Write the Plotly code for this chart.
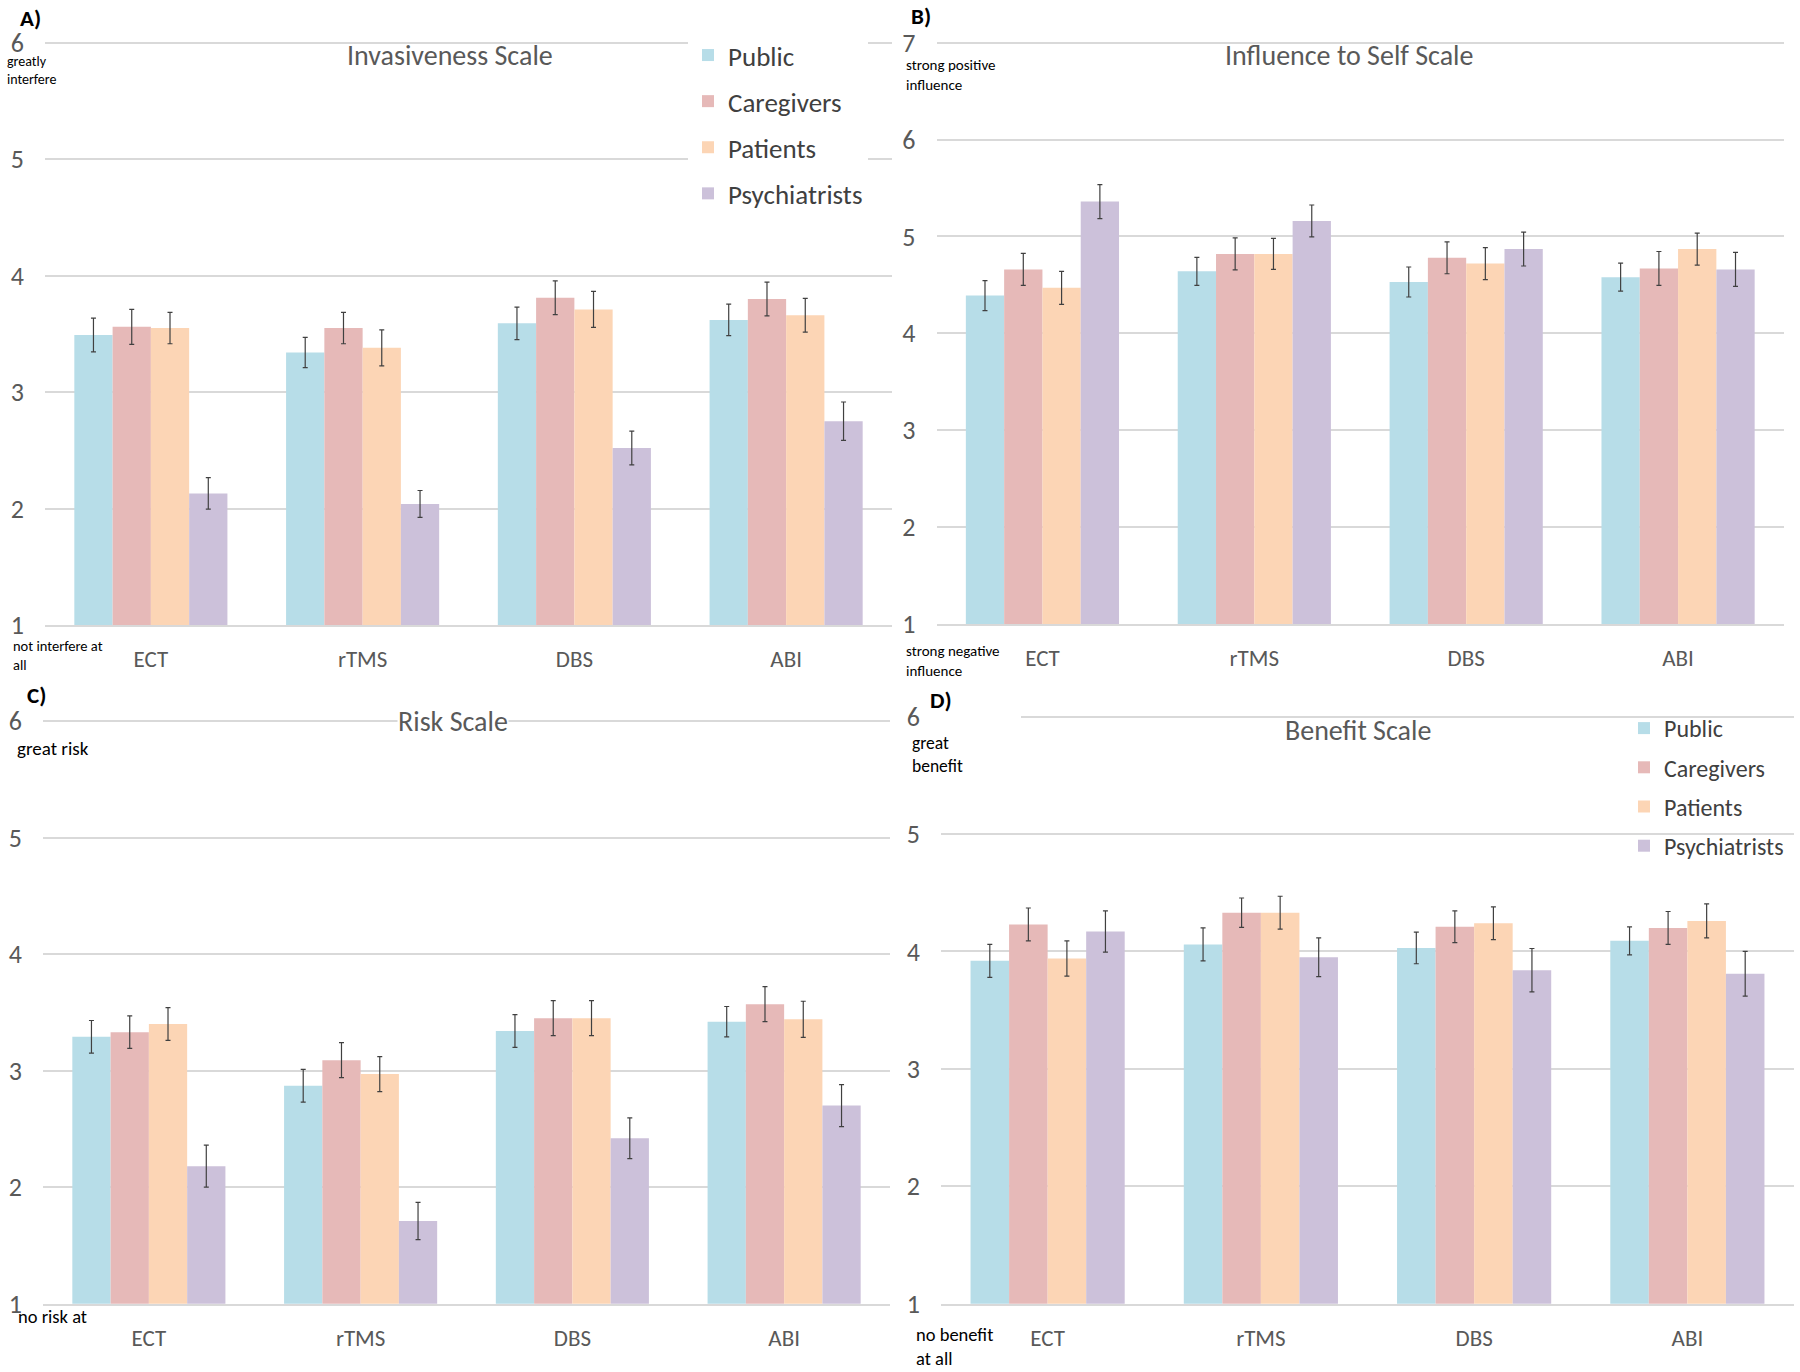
import plotly.graph_objects as go

# ---------------- data ----------------
treatments = ["ECT", "rTMS", "DBS", "ABI"]
groups = ["Public", "Caregivers", "Patients", "Psychiatrists"]
colors = ["#b7dde8", "#e6b9b8", "#fcd5b5", "#ccc1da"]

# A) Invasiveness Scale
inv_public = [3.49, 3.34, 3.59, 3.62]
inv_caregivers = [3.56, 3.55, 3.81, 3.80]
inv_patients = [3.55, 3.38, 3.71, 3.66]
inv_psych = [2.13, 2.04, 2.52, 2.75]
inv_public_err = [0.145, 0.13, 0.14, 0.135]
inv_caregivers_err = [0.15, 0.135, 0.145, 0.145]
inv_patients_err = [0.135, 0.155, 0.155, 0.145]
inv_psych_err = [0.135, 0.115, 0.145, 0.165]

# B) Influence to Self Scale
inf_public = [4.39, 4.64, 4.53, 4.58]
inf_caregivers = [4.66, 4.82, 4.78, 4.67]
inf_patients = [4.47, 4.82, 4.72, 4.87]
inf_psych = [5.36, 5.16, 4.87, 4.66]
inf_public_err = [0.155, 0.145, 0.155, 0.145]
inf_caregivers_err = [0.165, 0.165, 0.165, 0.175]
inf_patients_err = [0.17, 0.16, 0.165, 0.165]
inf_psych_err = [0.175, 0.165, 0.175, 0.175]

# C) Risk Scale
risk_public = [3.29, 2.87, 3.34, 3.42]
risk_caregivers = [3.33, 3.09, 3.45, 3.57]
risk_patients = [3.40, 2.97, 3.45, 3.44]
risk_psych = [2.18, 1.71, 2.42, 2.70]
risk_public_err = [0.14, 0.14, 0.14, 0.13]
risk_caregivers_err = [0.14, 0.15, 0.15, 0.15]
risk_patients_err = [0.14, 0.15, 0.15, 0.155]
risk_psych_err = [0.18, 0.16, 0.175, 0.18]

# D) Benefit Scale
ben_public = [3.92, 4.06, 4.03, 4.09]
ben_caregivers = [4.23, 4.33, 4.21, 4.20]
ben_patients = [3.94, 4.33, 4.24, 4.26]
ben_psych = [4.17, 3.95, 3.84, 3.81]
ben_public_err = [0.14, 0.14, 0.135, 0.12]
ben_caregivers_err = [0.14, 0.125, 0.135, 0.14]
ben_patients_err = [0.15, 0.14, 0.14, 0.145]
ben_psych_err = [0.175, 0.165, 0.185, 0.19]

panels = [
    dict(means=[inv_public, inv_caregivers, inv_patients, inv_psych],
         errs=[inv_public_err, inv_caregivers_err, inv_patients_err, inv_psych_err],
         ymax=6, legend="legend"),
    dict(means=[inf_public, inf_caregivers, inf_patients, inf_psych],
         errs=[inf_public_err, inf_caregivers_err, inf_patients_err, inf_psych_err],
         ymax=7, legend=None),
    dict(means=[risk_public, risk_caregivers, risk_patients, risk_psych],
         errs=[risk_public_err, risk_caregivers_err, risk_patients_err, risk_psych_err],
         ymax=6, legend=None),
    dict(means=[ben_public, ben_caregivers, ben_patients, ben_psych],
         errs=[ben_public_err, ben_caregivers_err, ben_patients_err, ben_psych_err],
         ymax=6, legend="legend2"),
]

# ---------------- layout geometry ----------------
W, H = 1800, 1372
FONT = "Carlito, Lato, sans-serif"
TICK = "#595959"
GRID = "#d9d9d9"
EPS = 0.03  # small headroom so the top gridline is drawn


def px(x):
    return x / W


def py(y):
    return 1 - y / H


# (left px, right px, pixel of top gridline, pixel of value 1)
boxes = [
    (45, 892, 42.7, 625.0),
    (936.5, 1784, 42.7, 624.0),
    (43, 890, 721.0, 1303.7),
    (941, 1794, 716.6, 1303.7),
]

fig = go.Figure()

for i, p in enumerate(panels):
    ax = "" if i == 0 else str(i + 1)
    for g, name in enumerate(groups):
        fig.add_trace(go.Bar(
            x=treatments, y=p["means"][g], name=name,
            marker=dict(color=colors[g], line=dict(width=0)),
            error_y=dict(type="data", array=p["errs"][g], color="#404040",
                         thickness=1.2, width=2.5),
            xaxis="x" + ax, yaxis="y" + ax,
            showlegend=p["legend"] is not None,
            legend=p["legend"] if p["legend"] else "legend",
            legendgroup=f"{i}-{name}",
        ))

layout = dict(
    width=W, height=H,
    margin=dict(l=0, r=0, t=0, b=0, autoexpand=False),
    paper_bgcolor="white", plot_bgcolor="white",
    barmode="group", bargap=0.277, bargroupgap=0,
    font=dict(family=FONT, color=TICK),
    legend=dict(x=px(688), y=py(31), xanchor="left", yanchor="top",
                bgcolor="white", font=dict(size=27, color="#404040", family=FONT),
                tracegroupgap=8, itemwidth=30),
    legend2=dict(x=px(1624), y=py(706), xanchor="left", yanchor="top",
                 bgcolor="rgba(0,0,0,0)", font=dict(size=24, color="#404040", family=FONT),
                 tracegroupgap=5, itemwidth=30),
)

for i, p in enumerate(panels):
    ax = "" if i == 0 else str(i + 1)
    l, r, top, bot = boxes[i]
    ppu = (bot - top) / (p["ymax"] - 1)
    top_edge = top - EPS * ppu
    layout["xaxis" + ax] = dict(
        domain=[px(l), px(r)], anchor="y" + ax, type="category",
        showgrid=False, showline=True, linecolor=GRID, linewidth=1.5,
        ticks="", tickfont=dict(size=23, color=TICK, family=FONT),
        ticklabelstandoff=13, automargin=False, fixedrange=True,
    )
    layout["yaxis" + ax] = dict(
        domain=[py(bot), py(top_edge)], anchor="x" + ax,
        range=[1, p["ymax"] + EPS],
        tickvals=list(range(1, p["ymax"] + 1)),
        showgrid=True, gridcolor=GRID, gridwidth=1.5,
        showline=False, zeroline=False, ticks="",
        tickfont=dict(size=26, color=TICK, family=FONT),
        ticklabelstandoff=20, automargin=False, fixedrange=True,
    )

fig.update_layout(**layout)

# ---------------- text annotations ----------------
def note(text, x, y, size, color="#000000", bold=False, xanchor="left", bg=None):
    fig.add_annotation(
        text=f"<b>{text}</b>" if bold else text,
        x=px(x), y=py(y), xref="paper", yref="paper",
        xanchor=xanchor, yanchor="middle", align="left", showarrow=False,
        font=dict(size=size, color=color, family=FONT),
        bgcolor=bg, borderpad=0,
    )


# panel letters
note("A)", 19, 18, 23, bold=True)
note("B)", 910, 16, 23, bold=True)
note("C)", 26, 695, 23, bold=True)
note("D)", 929, 700, 23, bold=True)

# titles
note("Invasiveness Scale", 450, 55, 28, color=TICK, xanchor="center")
note("Influence to Self Scale", 1349, 55, 28, color=TICK, xanchor="center")
note("Risk Scale", 453, 721, 28, color=TICK, xanchor="center", bg="white")
note("Benefit Scale", 1358, 730, 28, color=TICK, xanchor="center")

# scale anchors
note("greatly<br>interfere", 6, 71, 14)
note("not interfere at<br>all", 12, 656, 14.5)
note("strong positive<br>influence", 905, 75, 15)
note("strong negative<br>influence", 905, 661, 15)
note("great risk", 16, 748, 19)
note("no risk at", 17, 1316, 18.5)
note("great<br>benefit", 911, 754, 17.5)
note("no benefit<br>at all", 915, 1346, 18.5)

# the top gridline of panel D starts right of the "D)" label
fig.add_shape(type="rect", xref="x4 domain", yref="y4",
              x0=-0.001, x1=(1021 - 941) / (1794 - 941), y0=5.97, y1=6.02,
              fillcolor="white", line=dict(width=0), layer="above")

fig.write_html(
    "out.html",
    config={"displayModeBar": False, "staticPlot": False},
    post_script="document.body.style.margin='0px';document.body.style.overflow='hidden';",
)
